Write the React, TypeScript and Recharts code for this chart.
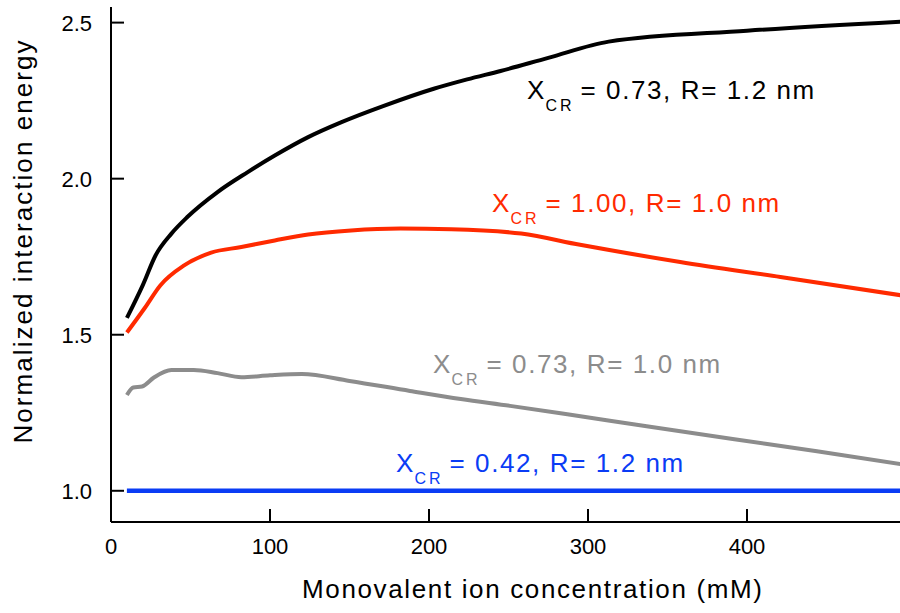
import React from "react";
import {
  Customized,
  Line,
  LineChart,
  XAxis,
  YAxis,
} from "recharts";

const xTicks = [0, 100, 200, 300, 400];
const yTicks = [1.0, 1.5, 2.0, 2.5];

// X_CR = 0.73, R = 1.2 nm
const concBlack = [10, 20, 28, 38, 48, 67, 86, 103, 124, 145, 172, 203, 224, 245, 275, 313, 400, 500];
const energyBlack = [1.554, 1.659, 1.754, 1.824, 1.877, 1.957, 2.021, 2.074, 2.133, 2.181, 2.234, 2.288, 2.318, 2.345, 2.387, 2.439, 2.474, 2.504];

// X_CR = 1.00, R = 1.0 nm
const concRed = [10, 21, 31, 46, 63, 82, 103, 124, 151, 182, 214, 258, 295, 358, 421, 500];
const energyRed = [1.507, 1.584, 1.658, 1.722, 1.763, 1.781, 1.802, 1.821, 1.834, 1.84, 1.838, 1.824, 1.788, 1.733, 1.685, 1.624];

// X_CR = 0.73, R = 1.0 nm
const concGray = [10, 14, 19.5, 27, 38, 52, 67, 82, 100, 120, 150, 188, 220, 251, 287, 339, 391, 444, 500];
const energyGray = [1.307, 1.331, 1.334, 1.363, 1.387, 1.387, 1.377, 1.364, 1.37, 1.374, 1.352, 1.32, 1.294, 1.272, 1.245, 1.205, 1.166, 1.127, 1.083];

// X_CR = 0.42, R = 1.2 nm
const concBlue = [10, 500];
const energyBlue = [1.0, 1.0];

const labelTexts = [
  "= 0.73, R= 1.2 nm",
  "= 1.00, R= 1.0 nm",
  "= 0.73, R= 1.0 nm",
  "= 0.42, R= 1.2 nm",
];

const zip = (xs: number[], ys: number[]) => xs.map((x, i) => ({ x, y: ys[i] }));

const FONT = "'Liberation Sans', Arial, sans-serif";
const BLACK = "#000000";
const RED = "#ff2a00";
const GRAY = "#8c8c8c";
const BLUE = "#0a3cf5";

const XTick = (props: any) => (
  <text
    x={props.x}
    y={props.y}
    textAnchor="middle"
    fontSize={22}
    fontFamily={FONT}
    fill="#000"
  >
    {props.payload.value}
  </text>
);

const YTick = (props: any) => (
  <text
    x={props.x}
    y={props.y + 8}
    textAnchor="end"
    fontSize={22}
    fontFamily={FONT}
    fill="#000"
  >
    {Number(props.payload.value).toFixed(1)}
  </text>
);

const NoTick = () => <g />;

function Annot({ x, y, color, text }: { x: number; y: number; color: string; text: string }) {
  return (
    <text fill={color} fontSize={26} fontFamily={FONT}>
      <tspan x={x} y={y}>X</tspan>
      <tspan x={x + 18.5} y={y + 12} fontSize={16} letterSpacing={3}>
        CR
      </tspan>
      <tspan x={x + 53.5} y={y} letterSpacing={1.6}>
        {text}
      </tspan>
    </text>
  );
}

function Overlay() {
  return (
    <g>
      <Annot x={527} y={99} color={BLACK} text={labelTexts[0]} />
      <Annot x={492} y={212} color={RED} text={labelTexts[1]} />
      <Annot x={433} y={373} color={GRAY} text={labelTexts[2]} />
      <Annot x={396} y={472} color={BLUE} text={labelTexts[3]} />
      <text
        x={302}
        y={598}
        fontSize={26}
        fontFamily={FONT}
        fill="#000"
        textLength={460}
        lengthAdjust="spacing"
      >
        Monovalent ion concentration (mM)
      </text>
      <text
        x={32}
        y={242}
        transform="rotate(-90 32 242)"
        textAnchor="middle"
        fontSize={26}
        fontFamily={FONT}
        fill="#000"
        textLength={403}
        lengthAdjust="spacing"
      >
        Normalized interaction energy
      </text>
    </g>
  );
}

export default function App() {
  const axisStroke = { stroke: "#000", strokeWidth: 2 };
  return (
    <div
      style={{
        position: "absolute",
        left: 0,
        top: 0,
        width: 900,
        height: 613,
        overflow: "hidden",
        background: "#fff",
      }}
    >
      <LineChart
        width={920}
        height={613}
        margin={{ top: 7, right: 14, left: 0, bottom: 0 }}
      >
        <XAxis
          type="number"
          dataKey="x"
          domain={[0, 500]}
          ticks={xTicks}
          interval={0}
          allowDataOverflow
          height={91}
          axisLine={axisStroke}
          tickLine={axisStroke}
          tickSize={-13}
          tickMargin={45}
          tick={XTick}
        />
        <XAxis
          xAxisId="top"
          orientation="top"
          type="number"
          domain={[0, 500]}
          ticks={xTicks}
          interval={0}
          height={0}
          axisLine={axisStroke}
          tickLine={axisStroke}
          tickSize={-13}
          tick={NoTick}
        />
        <YAxis
          type="number"
          domain={[0.9, 2.55]}
          ticks={yTicks}
          interval={0}
          allowDataOverflow
          width={111}
          axisLine={axisStroke}
          tickLine={axisStroke}
          tickSize={-13}
          tickMargin={32}
          tick={YTick}
        />
        <YAxis
          yAxisId="right"
          orientation="right"
          type="number"
          domain={[0.9, 2.55]}
          ticks={yTicks}
          interval={0}
          width={0}
          axisLine={axisStroke}
          tickLine={axisStroke}
          tickSize={-13}
          tick={NoTick}
        />
        <Line
          data={zip(concBlue, energyBlue)}
          dataKey="y"
          type="linear"
          stroke={BLUE}
          strokeWidth={4.5}
          dot={false}
          isAnimationActive={false}
        />
        <Line
          data={zip(concGray, energyGray)}
          dataKey="y"
          type="monotone"
          stroke={GRAY}
          strokeWidth={4}
          dot={false}
          isAnimationActive={false}
        />
        <Line
          data={zip(concRed, energyRed)}
          dataKey="y"
          type="monotone"
          stroke={RED}
          strokeWidth={4}
          dot={false}
          isAnimationActive={false}
        />
        <Line
          data={zip(concBlack, energyBlack)}
          dataKey="y"
          type="monotone"
          stroke={BLACK}
          strokeWidth={4}
          dot={false}
          isAnimationActive={false}
        />
        <Customized component={Overlay} />
      </LineChart>
    </div>
  );
}
